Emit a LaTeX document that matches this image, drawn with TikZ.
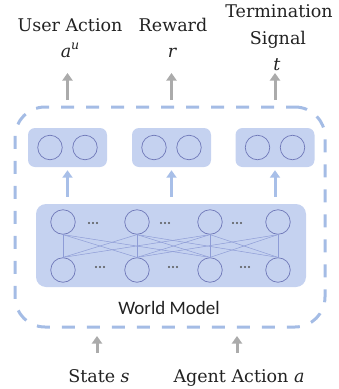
\documentclass[tikz,border=0pt]{standalone}
\usepackage{fontspec}
\newfontfamily\lblfont{DejaVu Serif}
\newfontfamily\wmfont{Carlito}
\usetikzlibrary{arrows.meta}
\definecolor{boxfill}{HTML}{C5D2F0}
\definecolor{circ}{HTML}{6F78B8}
\definecolor{linkc}{HTML}{8E9CD6}
\definecolor{arrblue}{HTML}{A8BFE8}
\definecolor{dashc}{HTML}{A4BCE5}
\definecolor{arrgray}{HTML}{ABABAB}
\definecolor{dotc}{HTML}{555555}
\definecolor{txt}{HTML}{222222}
\newcommand{\vv}[1]{{\itshape #1}}
\begin{document}
\begin{tikzpicture}[x=1pt,y=-1pt,
  lbl/.style={font=\lblfont\fontsize{17.5}{20}\selectfont, text=txt, anchor=base, inner sep=0pt},
  wmlbl/.style={font=\wmfont\fontsize{19}{20}\selectfont, text=txt, anchor=base, inner sep=0pt},
  neuron/.style={circle, draw=circ, line width=0.7pt, minimum size=24.5pt, inner sep=0pt},
  outbox/.style={rectangle, rounded corners=7pt, fill=boxfill, draw=none, inner sep=0pt},
  wmbox/.style={rectangle, draw=dashc, line width=3pt, rounded corners=30pt, dash pattern=on 13pt off 12pt, dash phase=4pt, inner sep=0pt},
  grayarrow/.style={draw=arrgray, line width=3pt, -{Triangle[width=10pt,length=7.5pt]}},
  bluearrow/.style={draw=arrblue, line width=3pt, -{Triangle[width=10pt,length=7.5pt]}},
  link/.style={draw=linkc, line width=0.5pt}
]
\useasboundingbox (0,0) rectangle (339,389);

% dashed world model container
\node[wmbox, minimum width=310pt, minimum height=220pt] (wm) at (170,217) {};

% output boxes
\node[outbox, minimum width=79pt, minimum height=39pt] (o1) at (67.5,147.5) {};
\node[outbox, minimum width=79pt, minimum height=39pt] (o2) at (171.5,147.5) {};
\node[outbox, minimum width=79pt, minimum height=39pt] (o3) at (275,147.5) {};
\foreach \k in {1,2,3} {
  \node[neuron] (o\k a) at ([xshift=-17.5pt]o\k.center) {};
  \node[neuron] (o\k b) at ([xshift=17.5pt]o\k.center) {};
}

% network box
\node[outbox, rounded corners=10pt, minimum width=270pt, minimum height=83pt] (net) at (171,245.5) {};
\node[neuron] (t1) at (63,222) {};
\node[neuron] (t2) at (137,222) {};
\node[neuron] (t3) at (210,222) {};
\node[neuron] (t4) at (278,222) {};
\node[neuron] (b1) at (63,270) {};
\node[neuron] (b2) at (137,270) {};
\node[neuron] (b3) at (210,270) {};
\node[neuron] (b4) at (278,270) {};
\foreach \i in {1,...,4} {
  \foreach \j in {1,...,4} {
    \pgfmathtruncatemacro\dd{abs(\i-\j)}
    \ifnum\dd<3 \draw[link] (t\i.south) -- (b\j.north); \fi
  }
}
% ellipsis dots
\foreach \x/\y in {93/223,165/223,237/223,100/267,173/267,245/267} {
  \foreach \o in {-4,0,4} { \fill[dotc] (\x+\o,\y) circle (1.1pt); }
}

% inner arrows
\foreach \k in {1,2,3} {
  \draw[bluearrow] ([yshift=7pt]net.north -| o\k) -- ([yshift=-3pt]o\k.south);
}

% output labels
\node[lbl] (ua) at (70,31) {User Action};
\node[lbl] (au) at (70,57) {\vv{a}\raisebox{0.42em}{\fontsize{12.5}{12}\selectfont\vv{u}}};
\node[lbl] (rw) at (173,31) {Reward};
\node[lbl] (rr) at (172,57) {\vv{r}};
\node[lbl] (term) at (279,17) {Termination};
\node[lbl] (sig) at (278,44) {Signal};
\node[lbl] (tt) at (277,70) {\vv{t}};

% output arrows
\coordinate (g1s) at (67.5,100); \coordinate (g1e) at (67.5,73);
\coordinate (g2s) at (171.5,100); \coordinate (g2e) at (171.5,73);
\coordinate (g3s) at (275,100); \coordinate (g3e) at (275,73);
\draw[grayarrow] (g1s) -- (g1e);
\draw[grayarrow] (g2s) -- (g2e);
\draw[grayarrow] (g3s) -- (g3e);

% world model label
\node[wmlbl] (wml) at (169,314) {World Model};

% inputs
\node[lbl] (st) at (99,382) {State \vv{s}};
\node[lbl] (ag) at (239,382) {Agent Action \vv{a}};
\coordinate (i1s) at (97,353); \coordinate (i1e) at (97,336);
\coordinate (i2s) at (237,353); \coordinate (i2e) at (237,336);
\draw[grayarrow] (i1s) -- (i1e);
\draw[grayarrow] (i2s) -- (i2e);
\end{tikzpicture}
\end{document}
